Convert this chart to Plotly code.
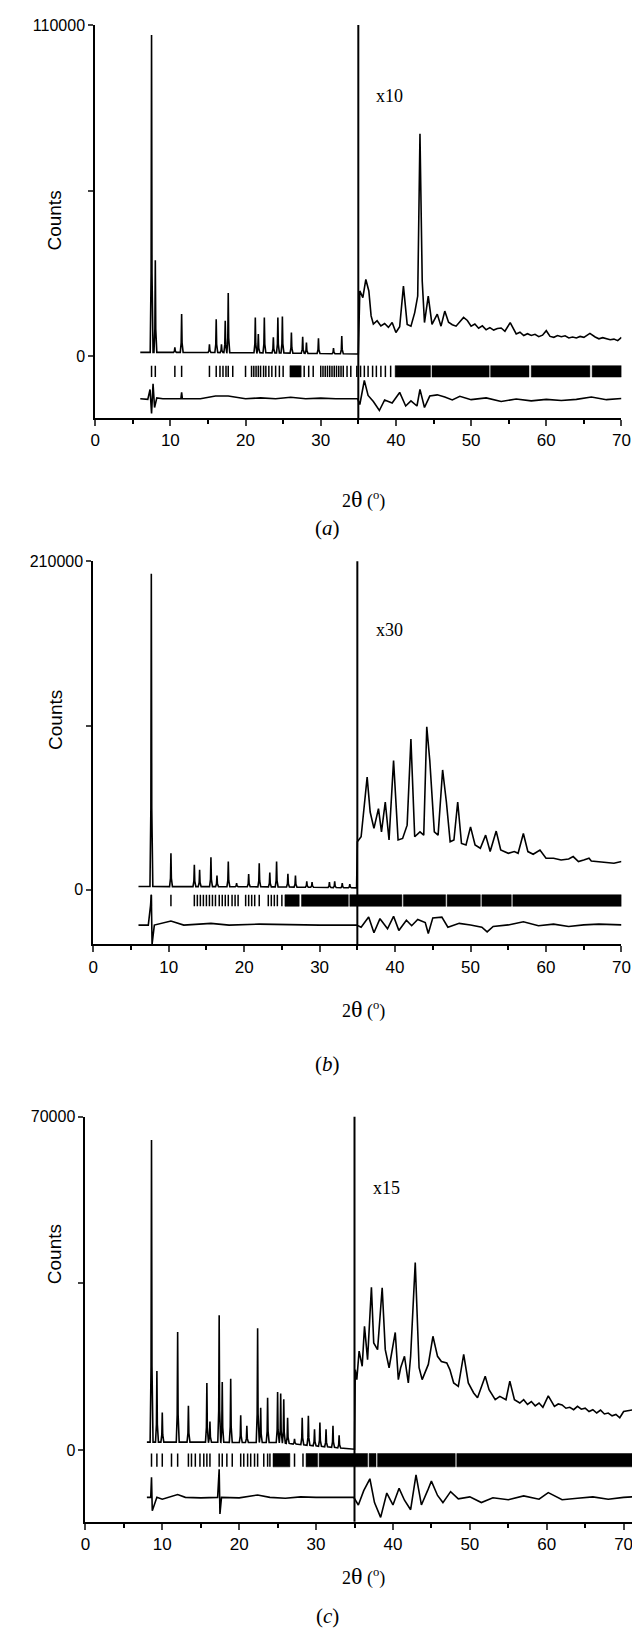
import numpy as np
import plotly.graph_objects as go

# ---------------- panel (a) ----------------
a_bg_x = [6.0, 10, 15, 20, 25, 30, 34.9]
a_bg_y = [1300, 1300, 1250, 1200, 1100, 900, 770]
a_pk_x = [7.5, 8.0, 10.6, 11.5, 15.2, 16.1, 16.8, 17.3, 17.7, 21.3, 21.7, 22.5, 23.7, 24.3, 24.9, 26.1, 27.6, 28.1, 29.7, 31.7, 32.8]
a_pk_y = [106700, 31900, 3000, 14000, 4000, 12300, 4000, 11800, 21000, 12900, 7400, 12900, 6300, 12900, 13200, 7900, 6500, 4600, 6000, 2700, 6700]
a_hi_x = [35.0, 35.2, 35.6, 36.0, 36.4, 36.7, 37.0, 37.5, 38.0, 38.5, 39.0, 39.5, 40.0, 40.5, 41.0, 41.5, 42.0, 42.5, 42.9, 43.2, 43.5, 43.8, 44.3, 44.8, 45.5, 46.0, 46.5, 47.0, 47.5, 48.0, 48.5, 49.0, 49.5, 50.0, 50.5, 51.0, 51.5, 52.0, 52.5, 53.0, 53.5, 54.0, 54.5, 55.2, 56.0, 56.5, 57.0, 57.5, 58.0, 58.5, 59.0, 59.5, 60.0, 60.5, 61.0, 61.5, 62.0, 62.5, 63.0, 63.5, 64.0, 64.5, 65.0, 65.8, 66.5, 67.0, 67.5, 68.0, 68.5, 69.0, 69.5, 70.0]
a_hi_y = [770, 21700, 19500, 25500, 21700, 13400, 10700, 11800, 10100, 10900, 9600, 11200, 7900, 9800, 23300, 10600, 10000, 14500, 20000, 73900, 25000, 11200, 20000, 10600, 14000, 10000, 15000, 11300, 10500, 10000, 11600, 12900, 11900, 10000, 10700, 9300, 10100, 8800, 9500, 8700, 9200, 9400, 8300, 11200, 7400, 8000, 6900, 7500, 6900, 7300, 6500, 7000, 8500, 6600, 6300, 6900, 6500, 6800, 6100, 6400, 6100, 6600, 6300, 7600, 6400, 5800, 6200, 5800, 5500, 5700, 5200, 6300]
a_df_x = [6.0, 7.0, 7.3, 7.5, 7.7, 7.9, 8.2, 9, 11.4, 11.5, 11.6, 14, 16.0, 17.7, 20, 22, 24, 26, 28, 30, 32, 34.9, 35.2, 35.8, 36.3, 37, 37.8, 38.5, 39.5, 40.5, 41.3, 42, 42.8, 43.2, 43.8, 44.5, 45.5, 46.5, 47.5, 48.5, 50, 52, 54, 56, 58, 60, 62, 64, 66, 68, 70]
a_df_y = [-14100, -14300, -11000, -19000, -9100, -17000, -13800, -14100, -14100, -12000, -14100, -14100, -13200, -13200, -14100, -13800, -14100, -13600, -14100, -13900, -14100, -14100, -16000, -8000, -13000, -15000, -18000, -14500, -15500, -12000, -16500, -14800, -16500, -11000, -17000, -13200, -12800, -13500, -14500, -13300, -14400, -13800, -15000, -14200, -14800, -14300, -14700, -14300, -13500, -14400, -14000]
a_tk = [7.5, 8.0, 10.6, 11.5, 15.2, 16.1, 16.6, 17.0, 17.4, 17.7, 18.3, 20.0, 20.8, 21.1, 21.4, 21.7, 22.0, 22.4, 22.7, 23.1, 23.5, 24.0, 24.5, 25.0, 27.8, 28.4, 29.0, 30.0, 30.3, 30.6, 30.9, 31.2, 31.5, 31.8, 32.1, 32.4, 32.7, 33.0, 33.5, 34.0, 34.8, 35.3, 35.8, 36.3, 36.9, 37.4, 38.0, 38.6, 39.3]
a_blk_lo = [25.9, 39.9, 44.8, 52.6, 58.0, 66.1]
a_blk_hi = [27.4, 44.6, 52.4, 57.7, 65.8, 70.0]

# ---------------- panel (b) ----------------
b_bg_x = [6.0, 10, 15, 20, 25, 30, 34.9]
b_bg_y = [2100, 2000, 2000, 1900, 1800, 1500, 1200]
b_pk_x = [7.7, 10.3, 13.4, 14.1, 15.6, 16.4, 17.9, 19.0, 20.6, 22.0, 23.4, 24.3, 25.8, 26.8, 28.3, 29.0, 31.3, 32.0, 33.0, 34.0]
b_pk_y = [202000, 23300, 15900, 12700, 20700, 9100, 18000, 4200, 10000, 16900, 11000, 18000, 10200, 9100, 5300, 4900, 4900, 5300, 4200, 3600]
b_hi_x = [35.0, 35.5, 36.3, 36.7, 37.2, 37.8, 38.2, 38.7, 39.2, 39.8, 40.4, 41.0, 41.6, 42.1, 42.6, 43.3, 43.8, 44.2, 44.6, 45.2, 45.7, 46.3, 46.8, 47.3, 47.8, 48.3, 48.8, 49.4, 50.0, 50.6, 51.3, 52.0, 52.6, 53.4, 54.0, 55.0, 55.8, 56.3, 57.0, 57.6, 58.3, 59.2, 60.0, 61.0, 62.0, 63.0, 63.6, 64.3, 65.0, 65.7, 66.0, 67.0, 68.0, 69.0, 70.0]
b_hi_y = [30700, 33900, 72000, 49700, 39200, 51900, 37000, 56100, 31800, 82600, 31800, 32800, 41300, 96300, 33900, 37000, 34900, 104200, 82600, 37000, 34900, 76600, 56100, 30700, 31800, 56100, 29600, 28600, 40200, 28600, 26500, 34900, 24400, 37500, 25400, 23300, 24400, 23300, 36000, 24400, 22700, 25400, 20100, 20100, 19000, 19700, 21200, 18000, 19000, 20100, 18400, 18000, 17600, 16900, 18000]
b_df_x = [6.0, 7.3, 7.6, 7.7, 7.8, 8.1, 10.3, 12, 15.6, 18, 22, 26, 30, 34.9, 35.5, 36.5, 37.2, 38.0, 39.0, 39.8, 40.5, 41.5, 42.2, 43.0, 44.0, 44.4, 45.0, 46.2, 47.0, 48.5, 50, 51.5, 52.2, 53, 55, 57, 59, 61, 63, 65, 67, 70]
b_df_y = [-22600, -22600, -10000, -3200, -35000, -22600, -20000, -22600, -21500, -22600, -22000, -22400, -22600, -22600, -24000, -17500, -27500, -18500, -25000, -17000, -26000, -19500, -23000, -19000, -21000, -28000, -18000, -17500, -24000, -21500, -22500, -24000, -27000, -23500, -22500, -20500, -23000, -22000, -23500, -22500, -22000, -22500]
b_tk = [7.7, 10.3, 13.4, 13.8, 14.2, 14.6, 15.0, 15.4, 15.8, 16.2, 16.7, 17.1, 17.5, 17.9, 18.4, 18.8, 19.2, 20.2, 20.6, 21.0, 21.4, 22.0, 23.2, 23.6, 24.0, 24.4, 25.0]
b_blk_lo = [25.4, 27.6, 34.0, 41.1, 46.9, 51.5, 55.6]
b_blk_hi = [27.3, 33.8, 40.9, 46.7, 51.3, 55.4, 70.0]

# ---------------- panel (c) ----------------
c_bg_x = [8.0, 12, 16, 20, 25, 30, 34.9]
c_bg_y = [1700, 1700, 1700, 1600, 1600, 900, 200]
c_pk_x = [8.6, 9.3, 10.0, 12.0, 13.4, 15.8, 16.2, 17.4, 17.8, 18.9, 20.2, 21.0, 22.4, 22.8, 23.7, 25.0, 25.4, 25.8, 26.3, 27.2, 28.2, 29.0, 29.8, 30.5, 31.3, 32.2, 33.0]
c_pk_y = [65100, 16600, 7900, 24800, 9300, 14100, 6000, 28300, 14300, 15000, 7300, 5100, 25600, 8900, 11000, 12200, 11900, 10700, 6800, 2400, 6800, 7200, 4400, 5800, 4400, 5100, 3100]
c_hi_x = [35.0, 35.1, 35.3, 35.6, 36.0, 36.3, 36.7, 37.2, 37.5, 38.0, 38.6, 39.0, 39.5, 40.3, 40.7, 41.0, 41.5, 42.0, 42.3, 42.9, 43.4, 43.8, 44.6, 45.2, 45.8, 46.3, 47.0, 47.4, 47.9, 48.5, 49.2, 49.8, 50.5, 51.0, 52.0, 52.5, 53.3, 53.9, 54.7, 55.2, 55.8, 56.5, 57.0, 57.5, 58.0, 58.5, 59.0, 59.5, 60.2, 61.0, 61.5, 62.0, 62.5, 63.0, 63.5, 64.0, 64.5, 65.0, 65.5, 66.0, 66.5, 67.0, 67.5, 68.0, 68.5, 69.0, 69.5, 70.0, 71.0, 72.0]
c_hi_y = [200, 16900, 14800, 20800, 17600, 26000, 19000, 34200, 22500, 21100, 34100, 21100, 17300, 24700, 14800, 17300, 19700, 14100, 19700, 39400, 17300, 14800, 18000, 23900, 19700, 18600, 18300, 16900, 14100, 13400, 20100, 14100, 12000, 11000, 15500, 12700, 10600, 11300, 10600, 14500, 10600, 9900, 10600, 9600, 10200, 9300, 9900, 9000, 11400, 9200, 9700, 9500, 8800, 9000, 8500, 9200, 8600, 8800, 8100, 8500, 7800, 8400, 7600, 7800, 7200, 7500, 6800, 8100, 8400, 8700]
c_df_x = [8.0, 8.5, 8.6, 8.7, 9.3, 10, 12.0, 13, 15, 17.2, 17.4, 17.5, 17.7, 20, 22.4, 24, 26, 28, 30, 32, 34.9, 35.5, 36.2, 37.0, 37.6, 38.4, 39.2, 40.0, 40.8, 41.5, 42.3, 43.0, 43.7, 44.5, 45.0, 45.8, 46.5, 47.5, 48.5, 50, 51.5, 53, 55, 57, 59, 60.2, 62, 64, 66, 68, 70, 72]
c_df_y = [-9900, -9900, -5700, -12700, -9900, -10300, -9300, -9900, -10000, -9900, -4000, -13400, -9900, -10000, -9400, -9900, -10100, -9800, -9900, -9900, -9900, -11500, -8500, -6000, -11000, -14100, -9000, -11500, -8000, -10500, -12500, -5200, -11500, -8500, -6500, -9500, -11000, -8700, -10200, -9800, -11000, -10000, -10400, -9600, -10300, -8900, -10400, -10100, -9800, -10300, -9900, -9700]
c_tk = [8.6, 9.3, 10.0, 11.2, 12.0, 13.4, 13.8, 14.3, 14.9, 15.4, 15.8, 16.2, 17.4, 17.8, 18.4, 19.1, 20.2, 20.6, 21.1, 21.5, 22.0, 22.4, 23.2, 23.7, 24.0, 27.2, 28.3]
c_blk_lo = [24.4, 28.7, 30.4, 36.9, 38.0, 48.3]
c_blk_hi = [26.6, 30.2, 36.7, 37.8, 48.1, 72.0]

panels = [
    dict(bg_x=a_bg_x, bg_y=a_bg_y, pk_x=a_pk_x, pk_y=a_pk_y, hi_x=a_hi_x, hi_y=a_hi_y,
         df_x=a_df_x, df_y=a_df_y, tk=a_tk, blo=a_blk_lo, bhi=a_blk_hi,
         top=110000, tick_lo=-3100, tick_hi=-6900, xmax=70, scale="x10", sy=86500,
         xd=[84/640, 0.972], yd=[1-404/1647, 1-9/1647]),
    dict(bg_x=b_bg_x, bg_y=b_bg_y, pk_x=b_pk_x, pk_y=b_pk_y, hi_x=b_hi_x, hi_y=b_hi_y,
         df_x=b_df_x, df_y=b_df_y, tk=b_tk, blo=b_blk_lo, bhi=b_blk_hi,
         top=210000, tick_lo=-3200, tick_hi=-10600, xmax=70, scale="x30", sy=166000,
         xd=[82/640, 0.972], yd=[1-933/1647, 1-548/1647]),
    dict(bg_x=c_bg_x, bg_y=c_bg_y, pk_x=c_pk_x, pk_y=c_pk_y, hi_x=c_hi_x, hi_y=c_hi_y,
         df_x=c_df_x, df_y=c_df_y, tk=c_tk, blo=c_blk_lo, bhi=c_blk_hi,
         top=70000, tick_lo=-700, tick_hi=-3500, xmax=72, scale="x15", sy=55000,
         xd=[74/640, 1.0], yd=[1-1513/1647, 1-1106/1647]),
]
bottoms = [-20500, -35000, -15000]
xlab_y = [470, 998, 1583]
plab_y = [500, 1053, 1622]
names = ["a", "b", "c"]

fig = go.Figure()
lw = 1.6
for i, p in enumerate(panels):
    xa = "x" if i == 0 else "x%d" % (i + 1)
    ya = "y" if i == 0 else "y%d" % (i + 1)
    # observed profile, low-angle part built from peak list
    xs = [p["bg_x"][0]]
    ys = [p["bg_y"][0]]
    for px, py in zip(p["pk_x"], p["pk_y"]):
        b = float(np.interp(px, p["bg_x"], p["bg_y"]))
        xs += [px - 0.18, px - 0.06, px, px + 0.06, px + 0.2]
        ys += [b, b + (py - b) * 0.25, py, b + (py - b) * 0.25, b]
    xs.append(p["bg_x"][-1]); ys.append(p["bg_y"][-1])
    xs += p["hi_x"]; ys += p["hi_y"]
    fig.add_trace(go.Scatter(x=xs, y=ys, mode="lines", line=dict(color="black", width=lw),
                             xaxis=xa, yaxis=ya, showlegend=False))
    # difference curve
    fig.add_trace(go.Scatter(x=p["df_x"], y=p["df_y"], mode="lines",
                             line=dict(color="black", width=lw),
                             xaxis=xa, yaxis=ya, showlegend=False))
    # reflection markers
    tx, ty = [], []
    for t in p["tk"]:
        tx += [t, t, None]; ty += [p["tick_lo"], p["tick_hi"], None]
    fig.add_trace(go.Scatter(x=tx, y=ty, mode="lines", line=dict(color="black", width=1.5),
                             xaxis=xa, yaxis=ya, showlegend=False))
    bx, by = [], []
    for lo, hi in zip(p["blo"], p["bhi"]):
        bx += [lo, hi, hi, lo, lo, None]
        by += [p["tick_lo"], p["tick_lo"], p["tick_hi"], p["tick_hi"], p["tick_lo"], None]
    fig.add_trace(go.Scatter(x=bx, y=by, mode="lines", fill="toself", fillcolor="black",
                             line=dict(color="black", width=0.5),
                             xaxis=xa, yaxis=ya, showlegend=False))

    ax = dict(domain=p["xd"], range=[0, p["xmax"]], tickvals=list(range(0, 80, 10)),
              ticks="outside", ticklen=6, tickwidth=1.5, showline=True, linewidth=1.8,
              linecolor="black", showgrid=False, zeroline=False,
              minor=dict(tickvals=list(range(5, 80, 10)), ticks="outside", ticklen=4,
                         tickwidth=1.5, tickcolor="black"),
              tickfont=dict(family="Liberation Sans", size=17, color="black"), anchor=ya)
    ay = dict(domain=p["yd"], range=[bottoms[i], p["top"]],
              tickvals=[0, p["top"] / 2, p["top"]], ticktext=["0", "", str(p["top"])],
              ticks="outside", ticklen=5, tickwidth=1.5, showline=True, linewidth=1.8,
              linecolor="black", showgrid=False, zeroline=False,
              tickfont=dict(family="Liberation Sans", size=16, color="black"), anchor=xa)
    fig.update_layout({("xaxis" if i == 0 else "xaxis%d" % (i + 1)): ax,
                       ("yaxis" if i == 0 else "yaxis%d" % (i + 1)): ay})

    fig.add_shape(type="line", xref=xa, yref=ya + " domain", x0=35, x1=35, y0=0, y1=1,
                  line=dict(color="black", width=2))
    fig.add_annotation(x=39.2, y=p["sy"], xref=xa, yref=ya, text=p["scale"], showarrow=False,
                       font=dict(family="Liberation Serif", size=18, color="black"))
    ymid = (p["yd"][0] + p["yd"][1]) / 2 + 0.02
    fig.add_annotation(x=30 / 640, y=ymid, xref="paper", yref="paper", text="Counts",
                       textangle=-90, showarrow=False,
                       font=dict(family="Liberation Sans", size=19, color="black"))
    fig.add_annotation(x=358 / 640, y=1 - xlab_y[i] / 1647, xref="paper", yref="paper",
                       text="2<span style='font-family:Liberation Serif;font-size:24px'>θ</span> (<sup>o</sup>)",
                       showarrow=False, font=dict(family="Liberation Serif", size=18, color="black"))
    fig.add_annotation(x=322 / 640, y=1 - plab_y[i] / 1647, xref="paper", yref="paper",
                       text="(<i>%s</i>)" % names[i], showarrow=False,
                       font=dict(family="Liberation Serif", size=21, color="black"))

fig.update_layout(width=640, height=1647, margin=dict(l=0, r=0, t=0, b=0),
                  paper_bgcolor="white", plot_bgcolor="white")
fig.write_html("out.html")
